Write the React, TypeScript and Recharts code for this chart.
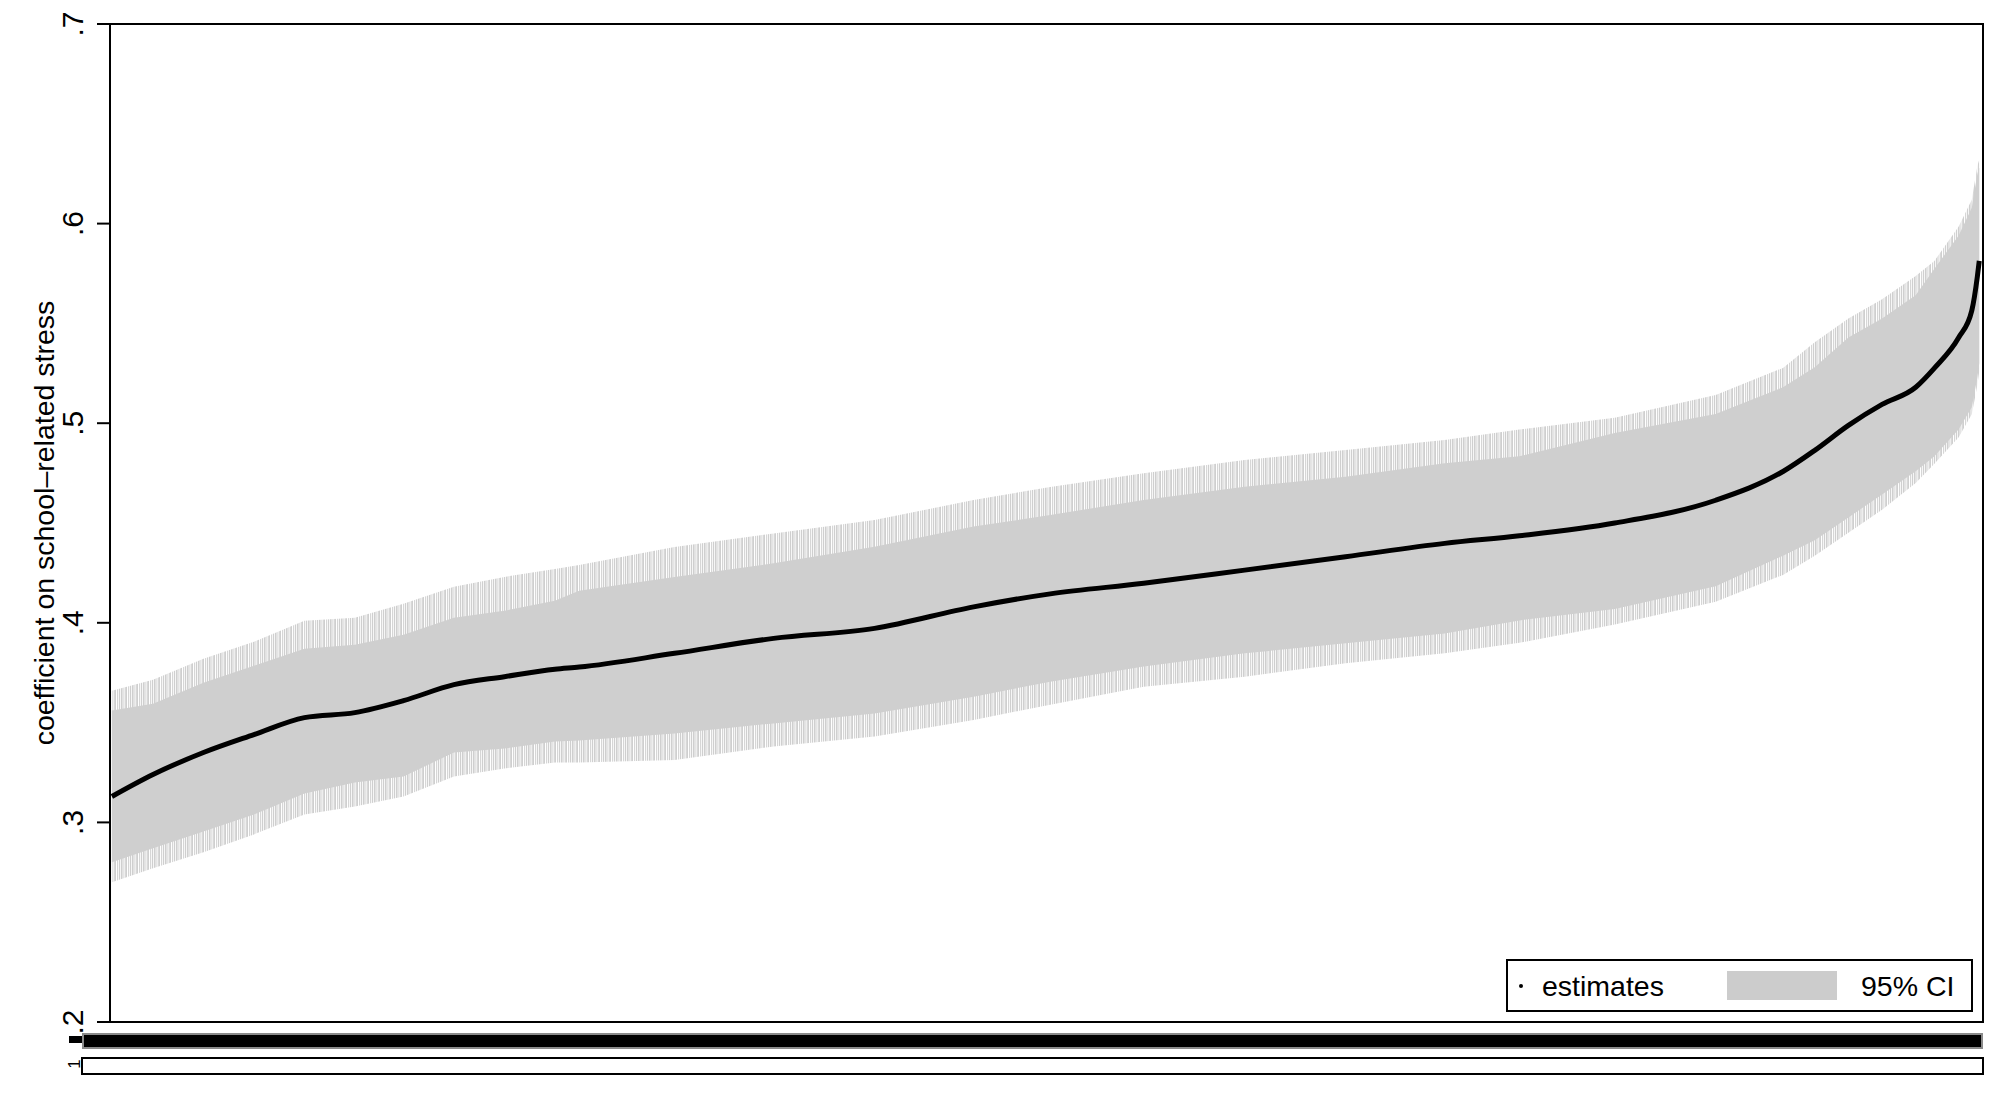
import React from 'react';
import {
  ComposedChart,
  Area,
  Line,
  XAxis,
  YAxis,
  ReferenceArea,
  Legend,
  Label,
} from 'recharts';

const FONT = '"Liberation Sans", Arial, Helvetica, sans-serif';

// specifications, ranked by estimate
const specRank = [
  1, 23, 50, 77, 104, 131, 157, 184, 211, 238, 251, 302, 355, 409, 462, 503, 553,
  607, 661, 714, 754, 805, 859, 895, 912, 930, 948, 966, 976, 989, 996, 999, 1000,
];

const estimates = [
  0.313, 0.324, 0.335, 0.344, 0.3525, 0.355, 0.361, 0.369, 0.373, 0.3767, 0.3778,
  0.3847, 0.3922, 0.3972, 0.408, 0.4145, 0.4198, 0.4264, 0.4331, 0.4398, 0.4436,
  0.45, 0.4614, 0.4758, 0.4864, 0.4989, 0.5094, 0.518, 0.5276, 0.5429, 0.5564,
  0.5736, 0.5813,
];

// outer reach of the individual CI spikes
const ciUpper = [
  0.366, 0.3715, 0.382, 0.3905, 0.401, 0.4025, 0.4095, 0.418, 0.423, 0.427, 0.429,
  0.438, 0.4448, 0.4515, 0.4615, 0.468, 0.4749, 0.4816, 0.4866, 0.4916, 0.4968,
  0.5027, 0.5141, 0.5277, 0.5405, 0.5525, 0.5621, 0.5737, 0.5813, 0.5985, 0.612,
  0.629, 0.632,
];
const ciLower = [
  0.27, 0.277, 0.285, 0.294, 0.304, 0.308, 0.313, 0.323, 0.327, 0.33, 0.33,
  0.3313, 0.338, 0.343, 0.3513, 0.359, 0.368, 0.373, 0.3797, 0.3847, 0.39,
  0.3991, 0.4106, 0.424, 0.4336, 0.4451, 0.4567, 0.4701, 0.4797, 0.493, 0.5045,
  0.519, 0.526,
];

// dense part of the CI band
const bandUpper = [
  0.356, 0.3595, 0.37, 0.3785, 0.387, 0.389, 0.394, 0.4025, 0.406, 0.411, 0.416,
  0.423, 0.4298, 0.4381, 0.4482, 0.454, 0.4615, 0.4682, 0.4732, 0.4799, 0.4834,
  0.4951, 0.5046, 0.518, 0.528, 0.5429, 0.5525, 0.5641, 0.5774, 0.594, 0.608,
  0.625, 0.628,
];
const bandLower = [
  0.28, 0.287, 0.2955, 0.304, 0.3145, 0.32, 0.323, 0.335, 0.337, 0.3405, 0.341,
  0.3446, 0.3496, 0.3546, 0.363, 0.3705, 0.3781, 0.3847, 0.3897, 0.3947, 0.4012,
  0.4069, 0.4183, 0.4336, 0.4413, 0.4528, 0.4643, 0.4759, 0.4835, 0.497, 0.508,
  0.523, 0.53,
];

// specification indicators shown in the strips under the plot
const indicatorA = [
  1, 1, 1, 1, 1, 1, 1, 1, 1, 1, 1, 1, 1, 1, 1, 1, 1, 1, 1, 1, 1, 1, 1, 1, 1, 1, 1,
  1, 1, 1, 1, 1, 1,
];
const indicatorB = [
  0, 0, 0, 0, 0, 0, 0, 0, 0, 0, 0, 0, 0, 0, 0, 0, 0, 0, 0, 0, 0, 0, 0, 0, 0, 0, 0,
  0, 0, 0, 0, 0, 0,
];

const yTicks = [0.2, 0.3, 0.4, 0.5, 0.6, 0.7];
const yTickLabels = ['.2', '.3', '.4', '.5', '.6', '.7'];
const yTitle = 'coefficient on school\u2013related stress';

const tableData = specRank.map((rank, i) => ({
  rank,
  estimate: estimates[i],
  ci: [ciLower[i], ciUpper[i]],
  band: [bandLower[i], bandUpper[i]],
  indicatorA: indicatorA[i],
  indicatorB: indicatorB[i],
}));

function YTick(props: any) {
  const { x, y, payload } = props;
  const idx = yTicks.findIndex((t) => Math.abs(t - payload.value) < 1e-9);
  return (
    <text
      x={x}
      y={y}
      transform={`rotate(-90 ${x} ${y})`}
      textAnchor="middle"
      fontSize={30}
      fontFamily={FONT}
      fill="#000"
    >
      {yTickLabels[idx] ?? ''}
    </text>
  );
}

function LegendBox() {
  return (
    <div
      style={{
        boxSizing: 'border-box',
        width: 467,
        height: 53,
        border: '2px solid #000',
        background: '#fff',
        position: 'relative',
        fontFamily: FONT,
        fontSize: 28.5,
        color: '#000',
      }}
    >
      <div
        style={{
          position: 'absolute',
          left: 11,
          top: 23,
          width: 4,
          height: 4,
          borderRadius: 2,
          background: '#000',
        }}
      />
      <div style={{ position: 'absolute', left: 34, top: 9, lineHeight: '32px' }}>
        estimates
      </div>
      <div
        style={{
          position: 'absolute',
          left: 219,
          top: 10,
          width: 110,
          height: 29,
          background: '#cccccc',
        }}
      />
      <div style={{ position: 'absolute', left: 353, top: 9, lineHeight: '32px' }}>
        95% CI
      </div>
    </div>
  );
}

function StripBlackTick(props: any) {
  const { x, y } = props;
  return <rect x={x - 14} y={y + 2} width={13} height={7} fill="#000" />;
}

function StripTextTick(props: any) {
  const { x, y, payload } = props;
  const tx = x - 2;
  const ty = y + 6;
  return (
    <g>
      <text
        x={tx}
        y={ty}
        transform={`rotate(-90 ${tx} ${ty})`}
        textAnchor="middle"
        fontSize={17}
        fontFamily={FONT}
        fill="#000"
      >
        {String(payload.value)}
      </text>
    </g>
  );
}

export default function App() {
  return (
    <div
      style={{
        position: 'absolute',
        left: 0,
        top: 0,
        width: 2008,
        height: 1108,
        background: '#fff',
      }}
    >
      <div style={{ position: 'absolute', left: 0, top: 0 }}>
        <ComposedChart
          width={2008}
          height={1108}
          data={tableData}
          margin={{ top: 24, right: 25, bottom: 86, left: 0 }}
        >
          <defs>
            <pattern
              id="ciSpikes"
              width="11"
              height="10"
              patternUnits="userSpaceOnUse"
            >
              <rect x="0" y="0" width="1.6" height="10" fill="#cfcfcf" />
              <rect x="2.4" y="0" width="1" height="10" fill="#d4d4d4" />
              <rect x="4.2" y="0" width="1.8" height="10" fill="#cfcfcf" />
              <rect x="7" y="0" width="1" height="10" fill="#d6d6d6" />
              <rect x="8.8" y="0" width="1.4" height="10" fill="#cfcfcf" />
            </pattern>
          </defs>
          <XAxis dataKey="rank" type="number" domain={[0, 1002]} hide />
          <YAxis
            type="number"
            domain={[0.2, 0.7]}
            ticks={yTicks}
            width={110}
            interval={0}
            tickSize={13}
            tickMargin={14}
            tick={<YTick />}
            axisLine={{ stroke: '#000', strokeWidth: 2 }}
            tickLine={{ stroke: '#000', strokeWidth: 2 }}
            allowDataOverflow
          >
            <Label
              content={(p: any) => {
                const vb = p.viewBox;
                const cx = vb.x + 54;
                const cy = vb.y + vb.height / 2;
                return (
                  <text
                    x={cx}
                    y={cy}
                    transform={`rotate(-90 ${cx} ${cy})`}
                    textAnchor="middle"
                    fontSize={28.5}
                    fontFamily={FONT}
                    fill="#000"
                  >
                    {yTitle}
                  </text>
                );
              }}
            />
          </YAxis>
          <Area
            type="linear"
            dataKey="ci"
            stroke="none"
            fill="url(#ciSpikes)"
            fillOpacity={1}
            isAnimationActive={false}
            legendType="none"
          />
          <Area
            type="linear"
            dataKey="band"
            stroke="none"
            fill="#cfcfcf"
            fillOpacity={1}
            isAnimationActive={false}
            legendType="none"
          />
          <Line
            type="monotone"
            dataKey="estimate"
            stroke="#000"
            strokeWidth={5}
            dot={false}
            isAnimationActive={false}
          />
          <ReferenceArea
            x1={0}
            x2={1002}
            y1={0.2}
            y2={0.7}
            fill="none"
            stroke="#000"
            strokeWidth={2}
            ifOverflow="visible"
          />
          <Legend
            layout="vertical"
            align="center"
            verticalAlign="middle"
            content={() => <LegendBox />}
            wrapperStyle={{ left: 1506, top: 959, width: 467, height: 53 }}
          />
        </ComposedChart>
      </div>

      <div style={{ position: 'absolute', left: 0, top: 1025 }}>
        <ComposedChart
          width={2008}
          height={30}
          data={tableData}
          margin={{ top: 9, right: 26, bottom: 7, left: 0 }}
        >
          <XAxis dataKey="rank" type="number" domain={[1, 1000]} hide />
          <YAxis
            type="number"
            domain={[0, 1]}
            ticks={[1]}
            interval={0}
            width={83}
            tickSize={0}
            tickMargin={0}
            axisLine={false}
            tickLine={false}
            tick={<StripBlackTick />}
          />
          <Area
            type="stepAfter"
            dataKey="indicatorA"
            stroke="none"
            fill="#000"
            fillOpacity={1}
            isAnimationActive={false}
          />
          <ReferenceArea
            x1={1}
            x2={1000}
            y1={0}
            y2={1}
            fill="none"
            stroke="#8a8a8a"
            strokeWidth={2}
            ifOverflow="visible"
          />
        </ComposedChart>
      </div>

      <div style={{ position: 'absolute', left: 0, top: 1050 }}>
        <ComposedChart
          width={2008}
          height={30}
          data={tableData}
          margin={{ top: 8, right: 25, bottom: 6, left: 0 }}
        >
          <XAxis dataKey="rank" type="number" domain={[1, 1000]} hide />
          <YAxis
            type="number"
            domain={[0, 1]}
            ticks={[1]}
            interval={0}
            width={82}
            tickSize={0}
            tickMargin={0}
            axisLine={false}
            tickLine={false}
            tick={<StripTextTick />}
          />
          <ReferenceArea
            x1={1}
            x2={1000}
            y1={0}
            y2={1}
            fill="#fff"
            stroke="#000"
            strokeWidth={2}
            ifOverflow="visible"
          />
          <Area
            type="stepAfter"
            dataKey="indicatorB"
            stroke="none"
            fill="#000"
            fillOpacity={1}
            isAnimationActive={false}
          />
        </ComposedChart>
      </div>
    </div>
  );
}
